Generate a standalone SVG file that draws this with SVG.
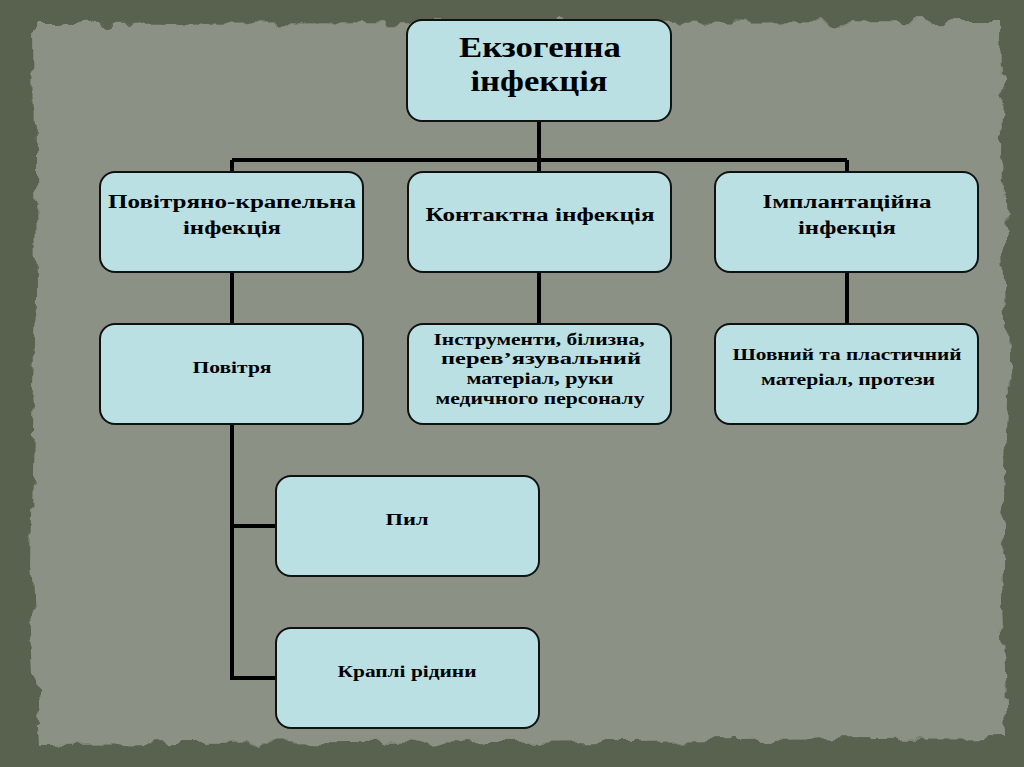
<svg xmlns="http://www.w3.org/2000/svg" width="1024" height="767" viewBox="0 0 1024 767">
<defs>
<filter id="rough" x="-5%" y="-5%" width="110%" height="110%">
<feTurbulence type="fractalNoise" baseFrequency="0.04" numOctaves="3" seed="3" result="n"/>
<feDisplacementMap in="SourceGraphic" in2="n" scale="18" xChannelSelector="R" yChannelSelector="G"/>
</filter>
<style>
.box{fill:#bbe0e3;stroke:#111;stroke-width:2}
.ln{stroke:#000;stroke-width:4;fill:none}
.t{font-family:"Liberation Serif","Times New Roman",serif;font-weight:bold;fill:#000;text-anchor:middle}
.t1{font-size:30px}
.t2{font-size:18px}
.t3{font-size:16px}
</style>
</defs>
<rect width="1024" height="767" fill="#58624f"/>
<path d="M34 24 L1000 22 L1003 200 L1008 400 L1002 600 L1006 738 L500 742 L40 745 L30 560 L36 300 Z" fill="#8b9185" filter="url(#rough)"/>
<g id="connectors" class="ln">
<path d="M539 121 V160 M232 160 H847 M232 160 V172 M539 160 V172 M847 160 V172"/>
<path d="M232 272 V324 M539 272 V324 M847 272 V324"/>
<path d="M232 424 V678 H276 M232 526 H276"/>
</g>
<g id="n-root"><rect class="box" x="407" y="20" width="264" height="101" rx="15"/>
<text class="t t1" x="540" y="57" textLength="162" lengthAdjust="spacingAndGlyphs">Екзогенна</text><text class="t t1" x="539" y="91" textLength="137" lengthAdjust="spacingAndGlyphs">інфекція</text></g>
<g id="n-air-drop"><rect class="box" x="100" y="172" width="263" height="100" rx="15"/>
<text class="t t2" x="232" y="208" textLength="248" lengthAdjust="spacingAndGlyphs">Повітряно-крапельна</text><text class="t t2" x="232" y="234" textLength="98" lengthAdjust="spacingAndGlyphs">інфекція</text></g>
<g id="n-contact"><rect class="box" x="408" y="172" width="263" height="100" rx="15"/>
<text class="t t2" x="540" y="221" textLength="229" lengthAdjust="spacingAndGlyphs">Контактна інфекція</text></g>
<g id="n-implant"><rect class="box" x="715" y="172" width="263" height="100" rx="15"/>
<text class="t t2" x="847" y="208" textLength="169" lengthAdjust="spacingAndGlyphs">Імплантаційна</text><text class="t t2" x="847" y="234" textLength="98" lengthAdjust="spacingAndGlyphs">інфекція</text></g>
<g id="n-air"><rect class="box" x="100" y="324" width="263" height="100" rx="15"/>
<text class="t t3" x="232" y="373" textLength="79" lengthAdjust="spacingAndGlyphs">Повітря</text></g>
<g id="n-instr"><rect class="box" x="408" y="324" width="263" height="100" rx="15"/>
<text class="t t3" x="539" y="345" textLength="211" lengthAdjust="spacingAndGlyphs">Інструменти, білизна,</text>
<text class="t t3" x="541" y="364" textLength="200" lengthAdjust="spacingAndGlyphs">перев’язувальний</text>
<text class="t t3" x="540" y="384" textLength="147" lengthAdjust="spacingAndGlyphs">матеріал, руки</text>
<text class="t t3" x="540" y="404" textLength="209" lengthAdjust="spacingAndGlyphs">медичного персоналу</text></g>
<g id="n-suture"><rect class="box" x="715" y="324" width="263" height="100" rx="15"/>
<text class="t t3" x="847" y="360" textLength="229" lengthAdjust="spacingAndGlyphs">Шовний та пластичний</text>
<text class="t t3" x="848" y="385" textLength="174" lengthAdjust="spacingAndGlyphs">матеріал, протези</text></g>
<g id="n-dust"><rect class="box" x="276" y="476" width="263" height="100" rx="15"/>
<text class="t t3" x="407" y="525" textLength="43" lengthAdjust="spacingAndGlyphs">Пил</text></g>
<g id="n-drops"><rect class="box" x="276" y="628" width="263" height="100" rx="15"/>
<text class="t t3" x="407" y="677" textLength="139" lengthAdjust="spacingAndGlyphs">Краплі рідини</text></g>
</svg>
